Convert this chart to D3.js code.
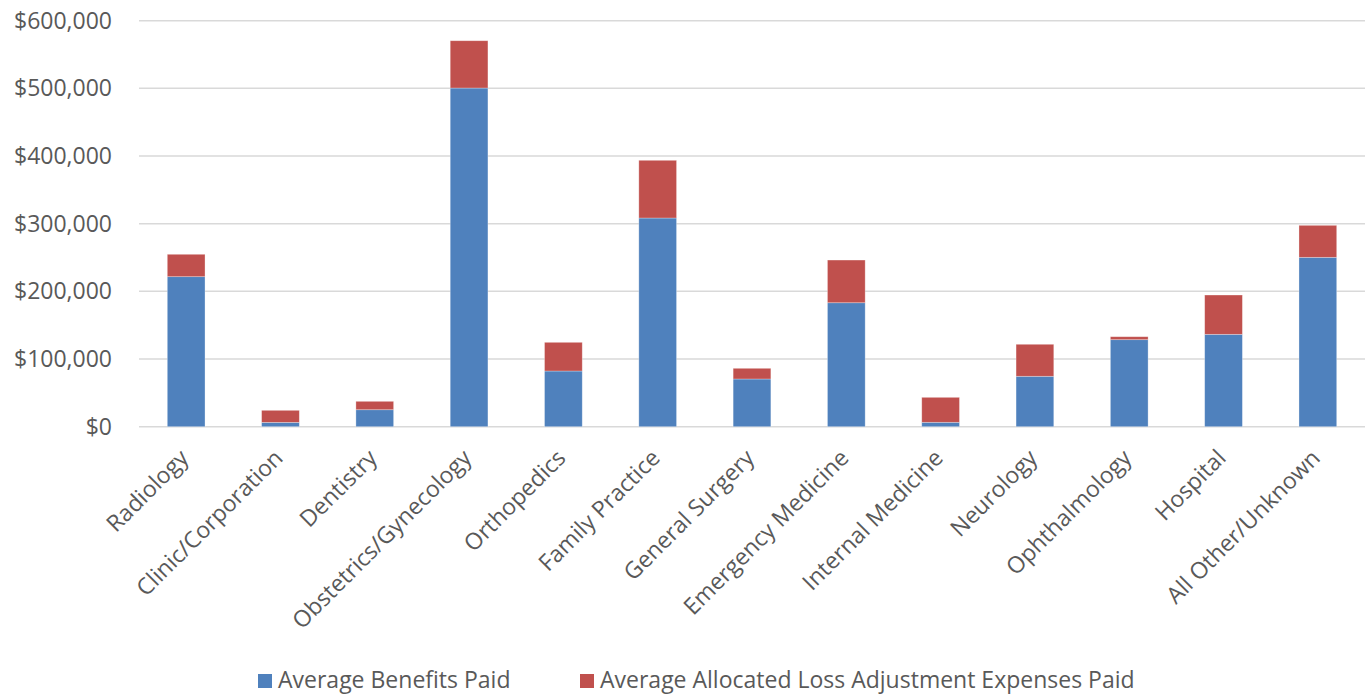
<!DOCTYPE html>
<html>
<head>
<meta charset="utf-8">
<script src="https://cdn.jsdelivr.net/npm/d3@7"></script>
<style>
    body { margin: 0; background: #fff; }
    svg text { font-family: "Open Sans", sans-serif; fill: #595959; }
</style>
</head>
<body>
<svg id="chart" width="1368" height="696"></svg>
<script>
var categories = ["Radiology", "Clinic/Corporation", "Dentistry", "Obstetrics/Gynecology", "Orthopedics",
    "Family Practice", "General Surgery", "Emergency Medicine", "Internal Medicine", "Neurology",
    "Ophthalmology", "Hospital", "All Other/Unknown"];
var benefitsPaid = [221700, 6400, 25100, 500500, 82300, 308400, 70500, 183200, 6500, 74500, 128600, 136500, 250300];
var expensesPaid = [33100, 17800, 12400, 69900, 42400, 85300, 15800, 63100, 36900, 47300, 4400, 58100, 47300];
var seriesNames = ["Average Benefits Paid", "Average Allocated Loss Adjustment Expenses Paid"];
var yTicks = [0, 100000, 200000, 300000, 400000, 500000, 600000];

var colors = ["#4F81BD", "#C0504D"];

var svg = d3.select("#chart");

var plotLeft = 139, plotRight = 1365, plotTop = 20.7, plotBottom = 426.7;
var fontSize = "23px";

var x = d3.scaleBand().domain(categories).range([plotLeft, plotRight]).paddingInner(0.6).paddingOuter(0.3);
var y = d3.scaleLinear().domain([0, 600000]).range([plotBottom, plotTop]);

var fmt = d3.format("$,");

// gridlines
svg.append("g").selectAll("line").data(yTicks).enter().append("line")
    .attr("x1", plotLeft)
    .attr("x2", plotRight)
    .attr("y1", d => y(d))
    .attr("y2", d => y(d))
    .attr("stroke", "#D9D9D9")
    .attr("stroke-width", 1.5);

// y labels
svg.append("g").selectAll("text").data(yTicks).enter().append("text")
    .attr("x", 112)
    .attr("y", d => y(d))
    .attr("dy", "0.35em")
    .attr("text-anchor", "end")
    .style("font-size", fontSize)
    .text(d => fmt(d));

// stack the two series
var rows = categories.map((c, i) => ({ cat: c, a: benefitsPaid[i], b: expensesPaid[i] }));
var stacked = d3.stack().keys(["a", "b"])(rows);

svg.append("g").selectAll("g").data(stacked).enter().append("g")
    .attr("fill", (d, i) => colors[i])
    .selectAll("rect").data(d => d).enter().append("rect")
    .attr("x", d => x(d.data.cat))
    .attr("width", x.bandwidth())
    .attr("y", d => y(d[1]))
    .attr("height", d => y(d[0]) - y(d[1]))
    .attr("stroke", "#fff")
    .attr("stroke-opacity", 0.4)
    .attr("stroke-width", 0.75);

// x labels
svg.append("g").selectAll("text").data(categories).enter().append("text")
    .attr("transform", d => `translate(${x(d) + x.bandwidth() / 2 - 2},${plotBottom + 27}) rotate(-45)`)
    .attr("text-anchor", "end")
    .attr("dy", "0.35em")
    .style("font-size", fontSize)
    .text(d => d);

// legend
var legend = svg.append("g");
var legendX = [258, 580];
seriesNames.forEach((name, i) => {
    legend.append("rect")
        .attr("x", legendX[i])
        .attr("y", 674)
        .attr("width", 14)
        .attr("height", 14)
        .attr("fill", colors[i]);
    legend.append("text")
        .attr("x", legendX[i] + 20)
        .attr("y", 688)
        .style("font-size", fontSize)
        .text(name);
});
</script>
</body>
</html>
